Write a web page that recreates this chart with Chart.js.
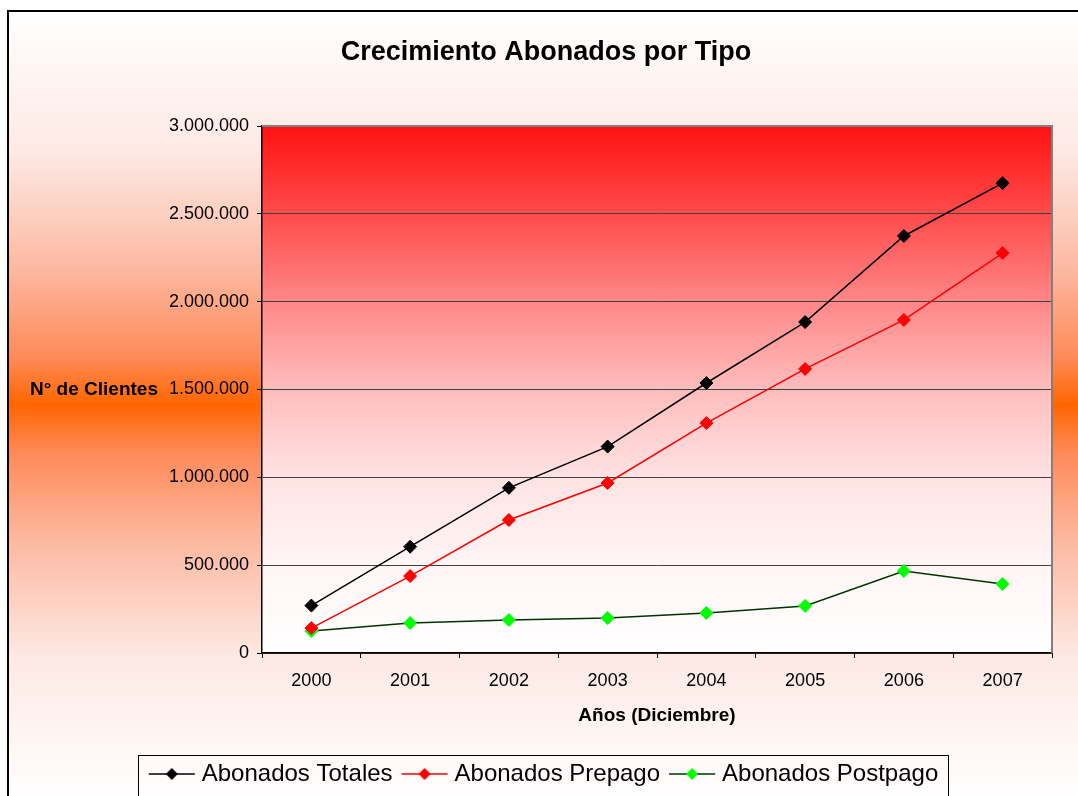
<!DOCTYPE html>
<html>
<head>
<meta charset="utf-8">
<script src="https://cdn.jsdelivr.net/npm/chart.js@4/dist/chart.umd.min.js"></script>
<style>
  html, body { margin: 0; padding: 0; background: #fff; overflow: hidden; }
  #wrap { position: relative; width: 1078px; height: 796px; }
</style>
</head>
<body>
<div id="wrap"><canvas id="myChart"></canvas></div>
<script>
var years = ["2000", "2001", "2002", "2003", "2004", "2005", "2006", "2007"];
var totales = [270000, 605000, 940000, 1175000, 1537000, 1884000, 2374000, 2675000];
var prepago = [142000, 438000, 757000, 968000, 1309000, 1617000, 1896000, 2277000];
var postpago = [125000, 171000, 188000, 199000, 228000, 268000, 467000, 393000];
var yTicks = [0, 500000, 1000000, 1500000, 2000000, 2500000, 3000000];

var FONT = "'Liberation Sans', Arial, sans-serif";

function fmt(v) {
  return String(v).replace(/\B(?=(\d{3})+(?!\d))/g, ".");
}

// legend symbol: line with a diamond in the middle
function symbol(lineColor, markColor) {
  var c = document.createElement("canvas");
  c.width = 48; c.height = 14;
  var g = c.getContext("2d");
  g.strokeStyle = lineColor;
  g.lineWidth = 1.5;
  g.beginPath(); g.moveTo(1, 7); g.lineTo(47, 7); g.stroke();
  g.fillStyle = markColor;
  g.beginPath();
  g.moveTo(24, 1); g.lineTo(30, 7); g.lineTo(24, 13); g.lineTo(18, 7);
  g.closePath(); g.fill();
  return c;
}
var symbols = [symbol("#000000", "#000000"), symbol("#ff0000", "#ff0000"), symbol("#003300", "#00ff00")];

var decor = {
  id: "decor",
  beforeDraw: function(chart) {
    var ctx = chart.ctx, a = chart.chartArea;
    ctx.save();
    ctx.fillStyle = "#ffffff";
    ctx.fillRect(0, 0, chart.width, chart.height);
    var g = ctx.createLinearGradient(0, 10, 0, 800);
    g.addColorStop(0, "#ffffff");
    g.addColorStop(0.18, "#fde9e4");
    g.addColorStop(0.33, "#fcb8a0");
    g.addColorStop(0.44, "#ff8a58");
    g.addColorStop(0.5, "#ff6600");
    g.addColorStop(0.56, "#ff8a58");
    g.addColorStop(0.67, "#fcb8a0");
    g.addColorStop(0.82, "#fde9e4");
    g.addColorStop(1, "#ffffff");
    ctx.fillStyle = g;
    ctx.fillRect(8, 11, chart.width, chart.height);
    var p = ctx.createLinearGradient(0, a.top, 0, a.bottom);
    p.addColorStop(0, "#ff1212");
    p.addColorStop(0.17, "#ff4c4c");
    p.addColorStop(0.33, "#ff8686");
    p.addColorStop(0.5, "#ffbdbd");
    p.addColorStop(0.67, "#ffe3e3");
    p.addColorStop(0.83, "#fff5f5");
    p.addColorStop(1, "#ffffff");
    ctx.fillStyle = p;
    ctx.fillRect(a.left, a.top, a.right - a.left, a.bottom - a.top);
    ctx.restore();
  },
  afterDraw: function(chart) {
    var ctx = chart.ctx, a = chart.chartArea;
    ctx.save();
    // top and right edge of plot area
    ctx.strokeStyle = "#808080";
    ctx.lineWidth = 2;
    ctx.beginPath();
    ctx.moveTo(a.left, a.top); ctx.lineTo(a.right, a.top); ctx.lineTo(a.right, a.bottom);
    ctx.stroke();
    // y axis title, horizontal
    ctx.fillStyle = "#000";
    ctx.font = "bold 19px " + FONT;
    ctx.textAlign = "left";
    ctx.textBaseline = "middle";
    ctx.fillText("N° de Clientes", 30, 390);
    // legend frame
    var hb = chart.legend.legendHitBoxes;
    if (hb && hb.length) {
      var l = Infinity, r = -Infinity;
      hb.forEach(function(h) { l = Math.min(l, h.left); r = Math.max(r, h.left + h.width); });
      ctx.strokeStyle = "#000";
      ctx.lineWidth = 1;
      ctx.strokeRect(Math.round(l - 16) + 0.5, 755.5, Math.round(r - l + 26), 60);
    }
    // outer frame
    ctx.lineWidth = 2;
    ctx.strokeRect(8, 11, chart.width + 20, chart.height + 20);
    ctx.restore();
  }
};

new Chart("myChart", {
  type: "line",
  data: {
    labels: years,
    datasets: [{
      label: "Abonados Totales",
      data: totales,
      borderColor: "#000000",
      backgroundColor: "#000000",
      pointBackgroundColor: "#000000",
      pointBorderColor: "#000000"
    }, {
      label: "Abonados Prepago",
      data: prepago,
      borderColor: "#ff0000",
      backgroundColor: "#ff0000",
      pointBackgroundColor: "#ff0000",
      pointBorderColor: "#ff0000"
    }, {
      label: "Abonados Postpago",
      data: postpago,
      borderColor: "#003300",
      backgroundColor: "#00ff00",
      pointBackgroundColor: "#00ff00",
      pointBorderColor: "#00ff00"
    }]
  },
  options: {
    responsive: true,
    maintainAspectRatio: false,
    animation: false,
    layout: { padding: { left: 40, right: 26, top: 0, bottom: 0 } },
    elements: {
      line: { borderWidth: 1.5, fill: false, tension: 0 },
      point: { pointStyle: "rectRot", radius: 6.5, borderWidth: 1 }
    },
    plugins: {
      title: {
        display: true,
        text: "Crecimiento Abonados por Tipo",
        color: "#000",
        font: { family: FONT, size: 27, weight: "bold" },
        padding: { top: 36, bottom: 57.6 }
      },
      legend: {
        position: "bottom",
        labels: {
          color: "#000",
          font: { family: FONT, size: 24 },
          usePointStyle: true,
          pointStyleWidth: 36,
          padding: 14,
          generateLabels: function(chart) {
            var items = Chart.defaults.plugins.legend.labels.generateLabels(chart);
            items.forEach(function(it, i) { it.pointStyle = symbols[i]; });
            return items;
          }
        }
      },
      tooltip: { enabled: false }
    },
    scales: {
      x: {
        offset: true,
        grid: { offset: true, drawOnChartArea: false, drawTicks: true, tickLength: 5, tickColor: "#000" },
        border: { color: "#000", width: 1.5 },
        ticks: { color: "#000", padding: 12, font: { family: FONT, size: 18 } },
        title: {
          display: true,
          text: "Años (Diciembre)",
          color: "#000",
          font: { family: FONT, size: 19, weight: "bold" },
          padding: { top: 4, bottom: 21 }
        },
        afterFit: function(s) { s.height = 95; }
      },
      y: {
        min: 0,
        max: 3000000,
        afterBuildTicks: function(s) { s.ticks = yTicks.map(function(v) { return { value: v }; }); },
        grid: { color: "#404040", lineWidth: 1, tickLength: 5, tickColor: "#000" },
        border: { color: "#000", width: 1.5 },
        ticks: {
          color: "#000",
          padding: 8,
          font: { family: FONT, size: 18 },
          callback: function(v) { return fmt(v); }
        },
        afterFit: function(s) { s.width = 222; }
      }
    }
  },
  plugins: [decor]
});
</script>
</body>
</html>
